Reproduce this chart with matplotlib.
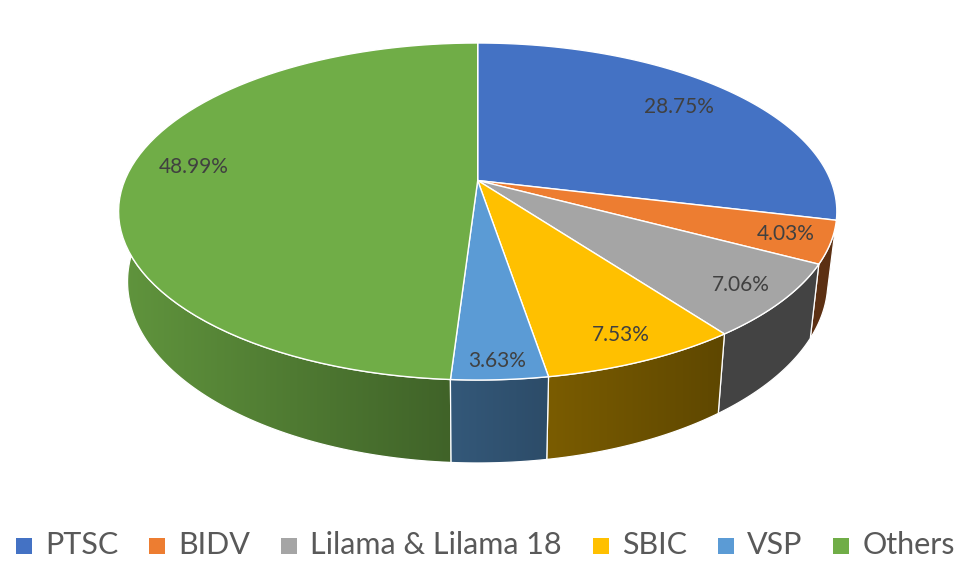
import numpy as np
import matplotlib.pyplot as plt
from matplotlib.patches import Polygon, Rectangle
from matplotlib.colors import to_rgb

plt.rcParams['font.family'] = ['Lato', 'DejaVu Sans']

# ── Data ──────────────────────────────────────────────────────────────────────
labels = ["PTSC", "BIDV", "Lilama & Lilama 18", "SBIC", "VSP", "Others"]
shares = [28.75, 4.03, 7.06, 7.53, 3.63, 48.99]
pct_text = ["28.75%", "4.03%", "7.06%", "7.53%", "3.63%", "48.99%"]

# ── Style ─────────────────────────────────────────────────────────────────────
colors = ["#4472C4", "#ED7D31", "#A5A5A5", "#FFC000", "#5B9BD5", "#70AD47"]
side_shade = [(0.45, 0.42), (0.39, 0.39), (0.41, 0.41),
              (0.48, 0.37), (0.57, 0.49), (0.86, 0.57)]   # left -> right brightness
label_r = [0.79, 0.88, 0.88, 0.88, 0.92, 0.82]
label_dtheta = [0, 0, 0, 0, 0, 4]

# projection of the tilted disc (pixel units)
CX, CY = 477.7, 180.5
RX, RY = 353.0, 162.8
PERSP = 0.184
DEPTH = 67.7
BOT_SCALE = 0.975


def top_pt(theta, r=1.0):
    """theta in degrees, clockwise from 12 o'clock"""
    t = np.radians(theta)
    u, v = r * np.sin(t), r * np.cos(t)
    d = 1 + PERSP * v
    return CX + RX * u / d, CY - RY * v / d


def bot_pt(theta):
    x, y = top_pt(theta)
    d = 1 + PERSP * np.cos(np.radians(theta))
    return CX + (x - CX) * BOT_SCALE, y + DEPTH / d


def arc(fn, a, b, n=80):
    return np.array([fn(t) for t in np.linspace(a, b, n)])


fig = plt.figure(figsize=(9.69, 5.74), dpi=100)
ax = fig.add_axes([0, 0, 1, 1])

bounds = np.concatenate([[0], np.cumsum(shares)]) / sum(shares) * 360

# ── Side walls (front half only, back to front) ───────────────────────────────
pieces = []
for i in range(len(shares)):
    a, b = max(bounds[i], 90), min(bounds[i + 1], 270)
    if a >= b:
        continue
    dist = 0 if a <= 180 <= b else min(abs(a - 180), abs(b - 180))
    pieces.append((dist, i, a, b))
pieces.sort(reverse=True)

for z, (_, i, a, b) in enumerate(pieces):
    pts = np.vstack([arc(top_pt, a, b), arc(bot_pt, b, a)])
    x0, x1 = pts[:, 0].min(), pts[:, 0].max()
    y0, y1 = pts[:, 1].min(), pts[:, 1].max()

    patch = Polygon(pts, closed=True, facecolor="none", edgecolor="white",
                    lw=0.9, zorder=2 + z * 0.1 + 0.05)
    ax.add_patch(patch)

    base = np.array(to_rgb(colors[i]))
    l, r = side_shade[i]
    grad = np.linspace(l, r, 256)
    img = np.clip(base[None, None, :] * grad[None, :, None], 0, 1)
    im = ax.imshow(img, extent=(x0, x1, y1, y0), aspect="auto",
                   interpolation="bilinear", zorder=2 + z * 0.1)
    im.set_clip_path(patch)

# ── Top face ──────────────────────────────────────────────────────────────────
for i in range(len(shares)):
    pts = np.vstack([[top_pt(0, 0)], arc(top_pt, bounds[i], bounds[i + 1])])
    ax.add_patch(Polygon(pts, closed=True, facecolor=colors[i], edgecolor="white",
                         lw=1.0, joinstyle="round", zorder=10))

for i in range(len(shares)):
    mid = (bounds[i] + bounds[i + 1]) / 2 + label_dtheta[i]
    x, y = top_pt(mid, label_r[i])
    ax.text(x, y, pct_text[i], ha="center", va="center", fontsize=15,
            color="#404040", zorder=20)

# ── Legend ────────────────────────────────────────────────────────────────────
fig.canvas.draw()
rend = fig.canvas.get_renderer()
LEG_BASE = 554
SQ, PAD, GAP = 16, 13, 31
items = []
for lab in labels:
    t = ax.text(0, LEG_BASE, lab, fontsize=22, color="#595959",
                ha="left", va="baseline", zorder=20)
    items.append((t, t.get_window_extent(renderer=rend).width))
total = sum(SQ + PAD + w for _, w in items) + GAP * (len(items) - 1)
x = 485.5 - total / 2
for (t, w), c in zip(items, colors):
    ax.add_patch(Rectangle((x, 538), SQ, SQ, facecolor=c, edgecolor="none", zorder=20))
    t.set_x(x + SQ + PAD)
    x += SQ + PAD + w + GAP

ax.set_xlim(0, 969)
ax.set_ylim(574, 0)
ax.set_aspect("auto")
ax.axis("off")
fig.savefig("out.png", dpi=100)
